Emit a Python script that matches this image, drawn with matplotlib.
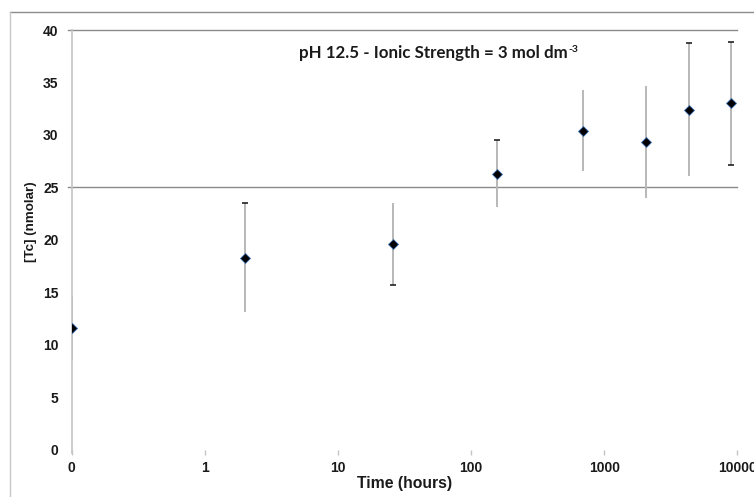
import matplotlib
matplotlib.use("Agg")
import matplotlib.pyplot as plt
from matplotlib.lines import Line2D

# Technetium concentration vs. contact time (time 0 plotted at 0.1 h on the log axis)
time_hours = [0.1, 2, 26, 156, 690, 2060, 4370, 9000]
tc_nmolar = [11.6, 18.3, 19.6, 26.3, 30.4, 29.3, 32.4, 33.0]
tc_error = [3.05, 5.17, 3.90, 3.20, 3.86, 5.32, 6.36, 5.85]

x_ticks = [0.1, 1, 10, 100, 1000, 10000]
x_tick_labels = ["0", "1", "10", "100", "1000", "10000"]
y_ticks = [0, 5, 10, 15, 20, 25, 30, 35, 40]
grid_levels = [25, 40]

# which error bar ends carry a visible cap
cap_top = [False, True, False, True, False, False, True, True]
cap_bottom = [False, False, True, False, False, False, False, True]

W, H, DPI = 754, 497, 100
fig = plt.figure(figsize=(W / DPI, H / DPI), dpi=DPI)
fig.patch.set_facecolor("white")

# outer chart frame (top and left edges)
fig.add_artist(Line2D([10 / W, 1.0], [1 - 12 / H, 1 - 12 / H], color="#8c8c8c", lw=1.0))
fig.add_artist(Line2D([10 / W, 10 / W], [0.0, 1 - 12 / H], color="#c8c8c8", lw=1.0))

left, right = 71.8 / W, 737.3 / W
top, bottom = 1 - 30 / H, 1 - 449.5 / H
ax = fig.add_axes([left, bottom, right - left, top - bottom])
ax.set_xscale("log")
ax.set_xlim(0.1, 10000)
ax.set_ylim(0, 40)

for s in ["top", "right", "bottom"]:
    ax.spines[s].set_visible(False)
ax.spines["left"].set_color("#c4c4c4")
ax.spines["left"].set_linewidth(1.2)
ax.spines["left"].set_bounds(-0.3, 40)

for g in grid_levels:
    ax.plot([0.093, 10000], [g, g], color="#8a8a8a", lw=1.0, clip_on=False, zorder=1)

ax.errorbar(time_hours, tc_nmolar, yerr=tc_error, fmt="none",
            ecolor="#b8b8b8", elinewidth=1.4, capsize=0, zorder=2)
for xv, yv, ev, ct, cb in zip(time_hours, tc_nmolar, tc_error, cap_top, cap_bottom):
    if ct:
        ax.plot([xv], [yv + ev], marker="_", color="#222222", ms=4.5, mew=1.2, zorder=3)
    if cb:
        ax.plot([xv], [yv - ev], marker="_", color="#222222", ms=4.5, mew=1.2, zorder=3)

ax.plot(time_hours, tc_nmolar, linestyle="none", marker="D", ms=4.8,
        mfc="black", mec="#3a6fb0", mew=0.6, zorder=4)

tick_font = dict(family="Liberation Sans", weight="bold", size=10)
ax.set_xticks(x_ticks)
ax.set_xticklabels(x_tick_labels, **tick_font, color="#1a1a1a")
ax.xaxis.set_minor_locator(matplotlib.ticker.NullLocator())
ax.tick_params(axis="x", length=3.5, width=1, color="#c4c4c4", pad=4.5)
ax.set_yticks(y_ticks)
ax.set_yticklabels([str(v) for v in y_ticks], **tick_font, color="#1a1a1a")
ax.tick_params(axis="y", length=0, pad=9.5)

ax.set_xlabel("Time (hours)", family="Liberation Sans", weight="bold",
              size=11.3, color="#1a1a1a", labelpad=1)
fig.text(31 / W, 1 - 222 / H, "[Tc] (nmolar)", rotation=90, ha="center", va="center",
         family="Liberation Sans", weight="bold", size=9.6, color="#1a1a1a")

title = ax.text(299 / W, 1 - 53 / H, "pH 12.5 - Ionic Strength = 3 mol dm",
                transform=fig.transFigure, ha="left", va="center",
                family="Lato", weight="bold", size=12.2, color="#1a1a1a")
ax.annotate("-3", xy=(1, 1), xycoords=title, xytext=(0.5, 0), textcoords="offset points",
            ha="left", va="top", family="Lato", weight="bold", size=7.5, color="#1a1a1a")

fig.savefig("out.png", dpi=DPI, facecolor="white")
